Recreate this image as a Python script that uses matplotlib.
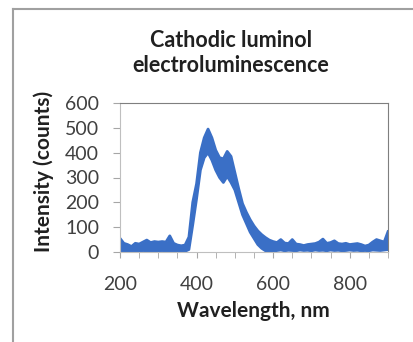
import matplotlib.pyplot as plt
from matplotlib.lines import Line2D
from matplotlib.ticker import MultipleLocator

# Spectrum: upper and lower edge of the noisy trace
wavelength = list(range(200, 901, 10))
upper = [55, 35, 30, 22, 35, 32, 40, 48, 38, 42,
         40, 42, 40, 65, 35, 28, 25, 28, 60, 200,
         275, 400, 460, 495, 460, 410, 380, 375, 405, 385,
         320, 255, 195, 160, 130, 105, 85, 70, 58, 48,
         42, 38, 50, 36, 34, 50, 32, 30, 26, 30,
         32, 34, 40, 52, 35, 38, 45, 34, 32, 35,
         30, 32, 34, 30, 24, 28, 40, 50, 45, 40,
         82]
lower = [5, 3, 4, 2, 5, 3, 6, 4, 3, 5,
         4, 6, 3, 5, 4, 3, 2, 3, 10, 110,
         215, 330, 380, 400, 370, 330, 300, 280, 305, 280,
         250, 200, 150, 115, 80, 55, 30, 15, 5, 2,
         2, 6, 8, 5, 7, 6, 5, 8, 6, 7,
         5, 8, 6, 7, 5, 8, 6, 7, 5, 6,
         8, 6, 7, 5, 6, 5, 8, 7, 6, 8,
         10]

blue = '#3a6fc6'
plt.rcParams['font.family'] = ['Lato', 'DejaVu Sans']

fig = plt.figure(figsize=(4.14, 3.42), dpi=100)
ax = fig.add_axes([120 / 414, 1 - 252 / 342, 268 / 414, 149 / 342])

ax.fill_between(wavelength, lower, upper, color=blue, lw=0)
ax.plot(wavelength, upper, color=blue, lw=2)
ax.plot(wavelength, lower, color=blue, lw=2)

ax.set_xlim(200, 900)
ax.set_ylim(0, 600)
ax.xaxis.set_major_locator(MultipleLocator(200))
ax.xaxis.set_minor_locator(MultipleLocator(50))
ax.yaxis.set_major_locator(MultipleLocator(100))
ax.tick_params(axis='both', which='both', direction='out', color='#a6a6a6',
               labelsize=14, labelcolor='#404040')
ax.tick_params(axis='x', which='both', length=4)
ax.tick_params(axis='x', pad=13)
ax.tick_params(axis='y', length=5, pad=10)

for side in ['top', 'right']:
    ax.spines[side].set_color('#7f7f7f')
for side in ['left', 'bottom']:
    ax.spines[side].set_color('#bfbfbf')

fig.text(231 / 414, 1 - 53 / 342, 'Cathodic luminol\nelectroluminescence',
         fontsize=15.5, fontweight='bold', color='#202020',
         ha='center', va='center', linespacing=1.25)
ax.set_xlabel('Wavelength, nm', fontsize=15, fontweight='bold',
              color='#202020', va='center')
ax.xaxis.set_label_coords(0.496, (252 - 311) / 149)
ax.set_ylabel('Intensity (counts)', fontsize=15, fontweight='bold',
              color='#202020', va='center')
ax.yaxis.set_label_coords((44 - 120) / 268, (252 - 171) / 149)

# outer frame of the pasted chart
fig.add_artist(Line2D([13 / 414, 1], [1 - 9 / 342, 1 - 9 / 342],
                      transform=fig.transFigure, color='#a0a0a0', lw=1.5))
fig.add_artist(Line2D([13 / 414, 13 / 414], [0, 1 - 9 / 342],
                      transform=fig.transFigure, color='#a0a0a0', lw=1.5))

fig.savefig('out.png', dpi=100)
